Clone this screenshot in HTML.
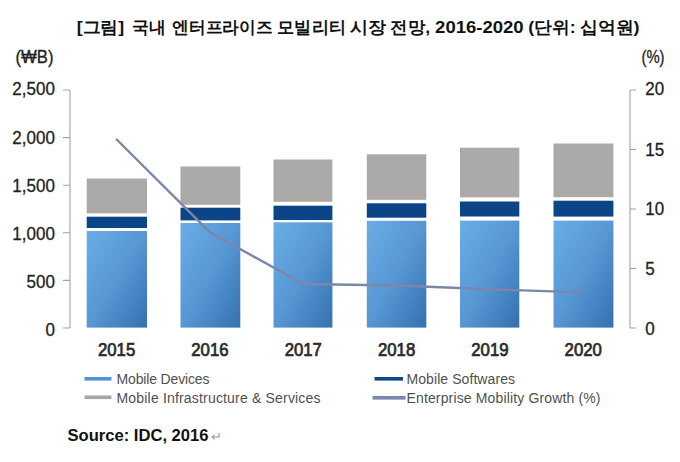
<!DOCTYPE html>
<html><head><meta charset="utf-8">
<style>
html,body{margin:0;padding:0;background:#fff;}
body{width:680px;height:462px;overflow:hidden;position:relative;}
svg{position:absolute;left:0;top:0;}
text{font-family:"Liberation Sans",sans-serif;}
</style></head>
<body>
<svg width="680" height="462" viewBox="0 0 680 462">
<defs>
<linearGradient id="lb" x1="0" y1="0" x2="1" y2="1">
<stop offset="0" stop-color="#6aaee6"/>
<stop offset="0.5" stop-color="#5697d4"/>
<stop offset="1" stop-color="#3570b0"/>
</linearGradient>
</defs>
<rect width="680" height="462" fill="#fff"/>
<!-- title -->
<g font-size="17" font-weight="bold" fill="#111">
<text x="76.8" y="32.5" textLength="47.4" lengthAdjust="spacingAndGlyphs">[그림]</text>
<text x="132.0" y="32.5" textLength="33.6" lengthAdjust="spacingAndGlyphs">국내</text>
<text x="172.1" y="32.5" textLength="100.4" lengthAdjust="spacingAndGlyphs">엔터프라이즈</text>
<text x="277.3" y="32.5" textLength="68.5" lengthAdjust="spacingAndGlyphs">모빌리티</text>
<text x="350.1" y="32.5" textLength="36.2" lengthAdjust="spacingAndGlyphs">시장</text>
<text x="390.3" y="32.5" textLength="39.8" lengthAdjust="spacingAndGlyphs">전망,</text>
<text x="435.1" y="32.5" textLength="88.5" lengthAdjust="spacingAndGlyphs">2016-2020</text>
<text x="528.3" y="32.5" textLength="47.5" lengthAdjust="spacingAndGlyphs">(단위:</text>
<text x="579.9" y="32.5" textLength="59.7" lengthAdjust="spacingAndGlyphs">십억원)</text>
</g>
<!-- axis units -->
<text x="15.5" y="63" font-size="18" fill="#222" stroke="#222" stroke-width="0.3" textLength="38" lengthAdjust="spacingAndGlyphs">(₩B)</text>
<text x="641.5" y="63" font-size="18" fill="#222" stroke="#222" stroke-width="0.3" textLength="23" lengthAdjust="spacingAndGlyphs">(%)</text>
<!-- left axis -->
<g fill="#222" stroke="#222" stroke-width="0.3" font-size="18.5" text-anchor="end">
<text transform="translate(54.9,95.4) scale(0.92,1)">2,500</text>
<text transform="translate(54.9,144.1) scale(0.92,1)">2,000</text>
<text transform="translate(54.9,191.6) scale(0.92,1)">1,500</text>
<text transform="translate(54.9,239.7) scale(0.92,1)">1,000</text>
<text transform="translate(54.9,287.8) scale(0.92,1)">500</text>
<text transform="translate(54.9,335.6) scale(0.92,1)">0</text>
</g>
<g fill="#222" stroke="#222" stroke-width="0.3" font-size="18.5">
<text transform="translate(645.3,95.4) scale(0.92,1)">20</text>
<text transform="translate(645.3,155.7) scale(0.92,1)">15</text>
<text transform="translate(645.3,215.4) scale(0.92,1)">10</text>
<text transform="translate(645.3,274.8) scale(0.92,1)">5</text>
<text transform="translate(645.3,335.2) scale(0.92,1)">0</text>
</g>
<g stroke="#a2a2a2" stroke-width="1.1" fill="none">
<path d="M70,90 V328 M63,90 H70 M63,137.6 H70 M63,185.2 H70 M63,232.8 H70 M63,280.4 H70 M63,328 H70"/>
<path d="M630,90 V328 M630,90 H636 M630,149.5 H636 M630,209 H636 M630,268.5 H636 M630,328 H636"/>
</g>
<!-- bars -->
<g>
<rect x="86.7" y="178.5" width="60.3" height="34.8" fill="#aca9a9"/>
<rect x="86.7" y="216.7" width="60.3" height="11.3" fill="#0c4488"/>
<rect x="86.7" y="231.0" width="60.3" height="96.6" fill="url(#lb)"/>
<rect x="180.5" y="166.5" width="59.8" height="38.3" fill="#aca9a9"/>
<rect x="180.5" y="207.7" width="59.8" height="12.7" fill="#0c4488"/>
<rect x="180.5" y="223.0" width="59.8" height="104.6" fill="url(#lb)"/>
<rect x="273.5" y="159.5" width="58.9" height="42.3" fill="#aca9a9"/>
<rect x="273.5" y="205.7" width="58.9" height="14.3" fill="#0c4488"/>
<rect x="273.5" y="222.3" width="58.9" height="105.3" fill="url(#lb)"/>
<rect x="366.8" y="154.3" width="59.5" height="45.5" fill="#aca9a9"/>
<rect x="366.8" y="203.3" width="59.5" height="14.4" fill="#0c4488"/>
<rect x="366.8" y="220.8" width="59.5" height="106.8" fill="url(#lb)"/>
<rect x="460.0" y="147.7" width="59.3" height="49.7" fill="#aca9a9"/>
<rect x="460.0" y="201.5" width="59.3" height="15.0" fill="#0c4488"/>
<rect x="460.0" y="220.6" width="59.3" height="107.0" fill="url(#lb)"/>
<rect x="553.5" y="143.5" width="59.9" height="53.7" fill="#aca9a9"/>
<rect x="553.5" y="200.7" width="59.9" height="15.9" fill="#0c4488"/>
<rect x="553.5" y="220.6" width="59.9" height="107.0" fill="url(#lb)"/>
</g>
<!-- line -->
<path d="M116.7,139.5 L210,232.4 L303.3,284 L396.7,285.5 L490,289.3 L583.3,292.4" fill="none" stroke="#7c86aa" stroke-width="2.4" stroke-linecap="round" stroke-linejoin="round"/>
<!-- year labels -->
<g fill="#2a2a2a" stroke="#2a2a2a" stroke-width="0.75" font-size="18" text-anchor="middle">
<text transform="translate(116.6,356.2) scale(0.93,1)">2015</text>
<text transform="translate(209.9,356.2) scale(0.93,1)">2016</text>
<text transform="translate(303.3,356.2) scale(0.93,1)">2017</text>
<text transform="translate(396.6,356.2) scale(0.93,1)">2018</text>
<text transform="translate(489.9,356.2) scale(0.93,1)">2019</text>
<text transform="translate(583.2,356.2) scale(0.93,1)">2020</text>
</g>
<!-- legend -->
<rect x="84.5" y="377" width="27" height="3.6" fill="#4f95d6"/>
<rect x="84.5" y="395.5" width="27" height="3.6" fill="#a6a6a6"/>
<rect x="374.5" y="377" width="28.5" height="3.6" fill="#0f4a87"/>
<rect x="372.5" y="396" width="33" height="3.6" fill="#7b88ae"/>
<g fill="#505050" font-size="14" lengthAdjust="spacingAndGlyphs">
<text x="116.5" y="384" textLength="93">Mobile Devices</text>
<text x="116.5" y="402.5" textLength="204">Mobile Infrastructure &amp; Services</text>
<text x="406.5" y="384" textLength="108.5">Mobile Softwares</text>
<text x="406.5" y="402.5" textLength="194">Enterprise Mobility Growth (%)</text>
</g>
<!-- source -->
<text x="67.5" y="441" font-size="17" font-weight="bold" fill="#111" textLength="141" lengthAdjust="spacingAndGlyphs">Source: IDC, 2016</text><text x="210.5" y="441" font-size="13" fill="#999">↵</text>
</svg>
</body></html>
